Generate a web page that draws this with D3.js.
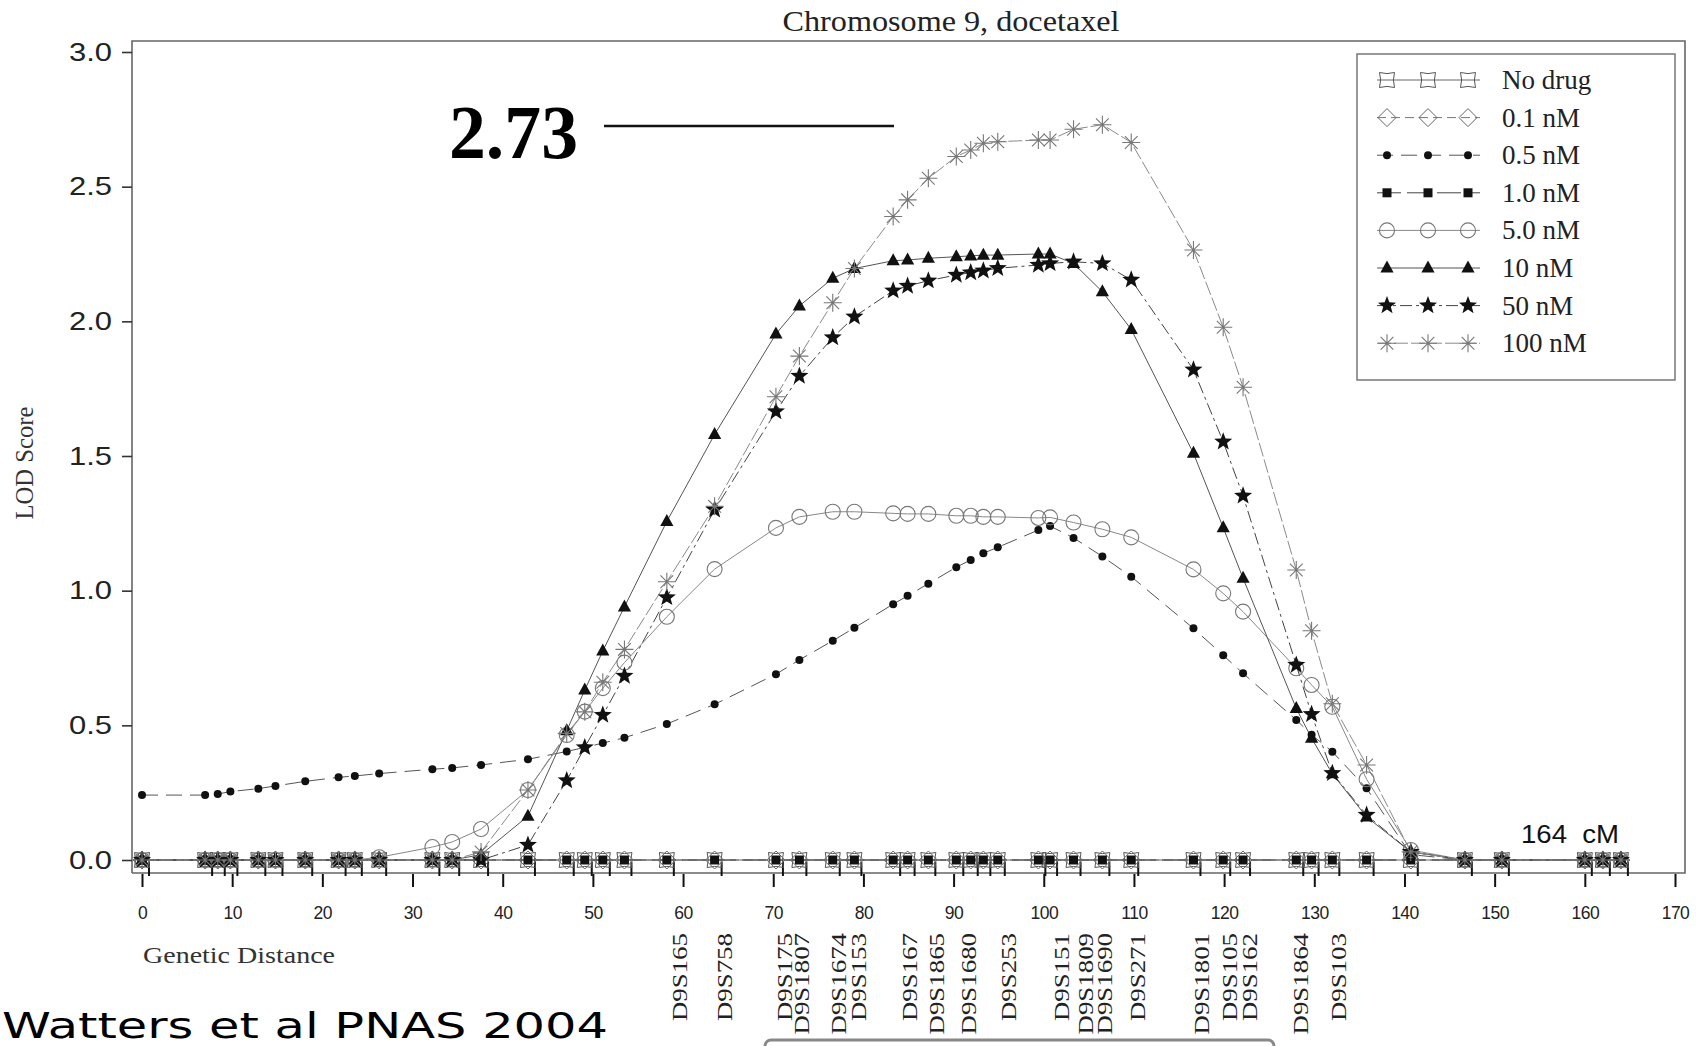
<!DOCTYPE html>
<html><head><meta charset="utf-8">
<script src="https://cdn.jsdelivr.net/npm/d3@7"></script>
<style>
body{margin:0;background:#fff}
svg{display:block}
</style>
</head><body>
<svg id="chart" width="1696" height="1046"></svg>
<script>
// ---------------- DATA ----------------
const positions = [0, 7.0, 8.4, 9.8, 12.9, 14.8, 18.1, 21.8, 23.6, 26.3, 32.2, 34.4, 37.6, 42.8, 47.1, 49.1, 51.1, 53.5, 58.2, 63.5, 70.3, 72.9, 76.6, 79.0, 83.3, 84.9, 87.2, 90.3, 91.9, 93.3, 94.9, 99.4, 100.7, 103.3, 106.5, 109.7, 116.6, 119.9, 122.1, 128.0, 129.7, 132.0, 135.8, 140.7, 146.7, 150.8, 160.0, 162.0, 164.0];

const seriesNames = ["No drug", "0.1 nM", "0.5 nM", "1.0 nM", "5.0 nM", "10 nM", "50 nM", "100 nM"];

const lodNoDrug = [0,0,0,0,0,0,0,0,0,0, 0,0,0,0,0,0,0,0,0,0, 0,0,0,0,0,0,0,0,0,0, 0,0,0,0,0,0,0,0,0,0, 0,0,0,0,0,0,0,0,0];
const lod01 = [0,0,0,0,0,0,0,0,0,0, 0,0,0,0,0,0,0,0,0,0, 0,0,0,0,0,0,0,0,0,0, 0,0,0,0,0,0,0,0,0,0, 0,0,0,0,0,0,0,0,0];
const lod05 = [0.241, 0.241, 0.245, 0.254, 0.265, 0.275, 0.292, 0.307, 0.312, 0.321,
  0.337, 0.342, 0.353, 0.374, 0.403, 0.418, 0.434, 0.454, 0.505, 0.578,
  0.690, 0.743, 0.814, 0.862, 0.950, 0.981, 1.026, 1.087, 1.114, 1.139,
  1.161, 1.225, 1.240, 1.196, 1.127, 1.052, 0.860, 0.760, 0.693, 0.520,
  0.465, 0.402, 0.266, 0.020, 0, 0, 0, 0, 0];
const lod10 = [0,0,0,0,0,0,0,0,0,0, 0,0,0,0,0,0,0,0,0,0, 0,0,0,0,0,0,0,0,0,0, 0,0,0,0,0,0,0,0,0,0, 0,0,0,0,0,0,0,0,0];
const lod50 = [0, 0, 0, 0, 0, 0, 0, 0, 0, 0.01,
  0.048, 0.067, 0.115, 0.260, 0.464, 0.551, 0.638, 0.733, 0.903, 1.080,
  1.233, 1.274, 1.293, 1.293, 1.287, 1.285, 1.285, 1.278, 1.278, 1.274,
  1.274, 1.270, 1.272, 1.253, 1.228, 1.198, 1.079, 0.990, 0.922, 0.712,
  0.650, 0.569, 0.300, 0.037, 0, 0, 0, 0, 0];
const lod10nM = [0, 0, 0, 0, 0, 0, 0, 0, 0, 0,
  0, 0, 0.020, 0.163, 0.480, 0.631, 0.776, 0.940, 1.257, 1.580,
  1.953, 2.057, 2.160, 2.196, 2.225, 2.228, 2.234, 2.240, 2.243, 2.246,
  2.246, 2.250, 2.250, 2.215, 2.110, 1.970, 1.510, 1.234, 1.046, 0.563,
  0.452, 0.320, 0.160, 0.030, 0, 0, 0, 0, 0];
const lod50nM = [0, 0, 0, 0, 0, 0, 0, 0, 0, 0,
  0, 0, 0, 0.056, 0.295, 0.418, 0.538, 0.683, 0.975, 1.300,
  1.665, 1.797, 1.940, 2.017, 2.114, 2.131, 2.151, 2.172, 2.181, 2.188,
  2.197, 2.209, 2.215, 2.221, 2.215, 2.154, 1.820, 1.553, 1.352, 0.724,
  0.541, 0.322, 0.167, 0.030, 0, 0, 0, 0, 0];
const lod100nM = [0, 0, 0, 0, 0, 0, 0, 0, 0, 0,
  0, 0, 0.030, 0.260, 0.470, 0.550, 0.660, 0.782, 1.033, 1.313,
  1.720, 1.871, 2.069, 2.196, 2.389, 2.451, 2.531, 2.612, 2.636, 2.661,
  2.667, 2.673, 2.673, 2.713, 2.730, 2.664, 2.265, 1.978, 1.755, 1.077,
  0.851, 0.580, 0.353, 0.030, 0, 0, 0, 0, 0];

const seriesValues = [lodNoDrug, lod01, lod05, lod10, lod50, lod10nM, lod50nM, lod100nM];

const markerNames = ["D9S165","D9S758","D9S175","D9S1807","D9S1674","D9S153","D9S167","D9S1865","D9S1680","D9S253","D9S151","D9S1809","D9S1690","D9S271","D9S1801","D9S105","D9S162","D9S1864","D9S103"];
const markerPos = [59.6, 64.6, 71.3, 73.2, 77.3, 79.5, 85.2, 88.1, 91.7, 96.1, 102.0, 104.7, 106.8, 110.4, 117.5, 120.6, 122.8, 128.5, 132.7];

const xTicks = [0,10,20,30,40,50,60,70,80,90,100,110,120,130,140,150,160,170];
const yTicks = [0,0.5,1.0,1.5,2.0,2.5,3.0];

const titleText = "Chromosome 9, docetaxel";
const peakLabel = "2.73";
const lengthLabel = "164  cM";

// ---------------- STYLES ----------------
const serif = "'Liberation Serif','Times New Roman',serif";
const sans = "'Liberation Sans',Arial,Helvetica,sans-serif";

function concaveSquare(h){const b=2.2;return `M${-h},${-h}Q0,${-h+b} ${h},${-h}Q${h-b},0 ${h},${h}Q0,${h-b} ${-h},${h}Q${-h+b},0 ${-h},${-h}Z`;}
function diamond(h){return `M0,${-h}L${h},0L0,${h}L${-h},0Z`;}
function circ(r){return `M${r},0A${r},${r} 0 1,1 ${-r},0A${r},${r} 0 1,1 ${r},0Z`;}
function sq(h){return `M${-h},${-h}H${h}V${h}H${-h}Z`;}
function tri(s){return `M0,${-s*0.62}L${s*0.55},${s*0.38}L${-s*0.55},${s*0.38}Z`;}
function star(R,r){let p="";for(let k=0;k<10;k++){const a=-Math.PI/2+k*Math.PI/5;const rr=k%2?r:R;p+=(k?"L":"M")+(rr*Math.cos(a)).toFixed(2)+","+(rr*Math.sin(a)).toFixed(2);}return p+"Z";}
function asterisk(r){let p="";for(let k=0;k<4;k++){const a=k*Math.PI/4;const dx=r*Math.cos(a),dy=r*Math.sin(a);p+=`M${(-dx).toFixed(2)},${(-dy).toFixed(2)}L${dx.toFixed(2)},${dy.toFixed(2)}`;}return p;}

const styles = {
  "No drug": {path: concaveSquare(7.5), fill:"none", stroke:"#555", sw:1, line:"#666", dash:null, lw:1},
  "0.1 nM":  {path: diamond(9), fill:"none", stroke:"#666", sw:1, line:"#777", dash:"9,5", lw:1},
  "0.5 nM":  {path: circ(4), fill:"#111", stroke:"none", sw:0, line:"#555", dash:"16,8", lw:1},
  "1.0 nM":  {path: sq(4.5), fill:"#111", stroke:"none", sw:0, line:"#444", dash:"24,6", lw:1},
  "5.0 nM":  {path: circ(7.5), fill:"none", stroke:"#777", sw:1.1, line:"#888", dash:null, lw:1},
  "10 nM":   {path: tri(12), fill:"#111", stroke:"none", sw:0, line:"#555", dash:null, lw:1},
  "50 nM":   {path: star(9.5,4), fill:"#111", stroke:"none", sw:0, line:"#444", dash:"12,4,3,4", lw:1},
  "100 nM":  {path: asterisk(9), fill:"none", stroke:"#777", sw:1.1, line:"#8a8a8a", dash:"14,3", lw:1}
};

// ---------------- CHART ----------------
const svg = d3.select("#chart");
svg.append("rect").attr("width",1696).attr("height",1046).attr("fill","#fff");

const x = d3.scaleLinear().domain([0,170]).range([142,1675]);
const y = d3.scaleLinear().domain([0,3]).range([860,52]);

const frame = {left:132, top:41, right:1685, bottom:873};

// frame
svg.append("path")
  .attr("d",`M${frame.left},${frame.bottom}V${frame.top}H${frame.right}V${frame.bottom}H${frame.left}`)
  .attr("fill","none").attr("stroke","#666").attr("stroke-width",1.6);

// y axis
const yAxis = svg.append("g").attr("transform",`translate(${frame.left},0)`)
  .call(d3.axisLeft(y).tickValues(yTicks).tickFormat(d3.format(".1f")).tickSize(10).tickPadding(10));
yAxis.select(".domain").remove();
yAxis.selectAll(".tick line").attr("stroke","#333").attr("stroke-width",1.6);
yAxis.selectAll(".tick text").attr("font-family",sans).attr("font-size",26).attr("fill","#222")
  .attr("textLength",43).attr("lengthAdjust","spacingAndGlyphs");

// x axis
const xAxis = svg.append("g").attr("transform",`translate(0,${frame.bottom+1})`)
  .call(d3.axisBottom(x).tickValues(xTicks).tickFormat(d3.format("d")).tickSize(13).tickPadding(20));
xAxis.select(".domain").remove();
xAxis.selectAll(".tick line").attr("stroke","#111").attr("stroke-width",2);
xAxis.selectAll(".tick text").attr("font-family",sans).attr("font-size",17.5).attr("fill","#222").attr("letter-spacing","-0.5px");

// rug ticks at marker positions
svg.append("g").selectAll("line").data(positions).join("line")
  .attr("x1",d=>x(d)+7).attr("x2",d=>x(d)+7)
  .attr("y1",y(0)+2).attr("y2",frame.bottom+3)
  .attr("stroke","#111").attr("stroke-width",2);

// series lines
const line = d3.line().x(d=>x(d.pos)).y(d=>y(d.v));
const seriesData = seriesNames.map((n,i)=>({name:n, pts: positions.map((p,j)=>({pos:p, v:seriesValues[i][j]}))}));

svg.append("g").selectAll("path").data(seriesData).join("path")
  .attr("d",d=>line(d.pts))
  .attr("fill","none")
  .attr("stroke",d=>styles[d.name].line)
  .attr("stroke-width",d=>styles[d.name].lw)
  .attr("stroke-dasharray",d=>styles[d.name].dash);

// markers
seriesData.forEach(s=>{
  const st = styles[s.name];
  svg.append("g").selectAll("path").data(s.pts).join("path")
    .attr("transform",d=>`translate(${x(d.pos)},${y(d.v)})`)
    .attr("d",st.path)
    .attr("fill",st.fill).attr("stroke",st.stroke).attr("stroke-width",st.sw);
});

// marker labels (rotated, stretched along their length)
svg.append("g").selectAll("text").data(markerNames).join("text")
  .attr("transform",(d,i)=>`translate(${x(markerPos[i])},933) rotate(-90) scale(1.28,1)`)
  .attr("text-anchor","end").attr("dy","0.34em")
  .attr("font-family",serif).attr("font-size",21).attr("fill","#222")
  .text(d=>d);

// title
svg.append("text").attr("x",951).attr("y",31).attr("text-anchor","middle")
  .attr("font-family",serif).attr("font-size",30).attr("fill","#222")
  .attr("textLength",337).attr("lengthAdjust","spacingAndGlyphs").text(titleText);

// y title
svg.append("text").attr("transform","translate(33,463) rotate(-90)").attr("text-anchor","middle")
  .attr("font-family",serif).attr("font-size",25).attr("fill","#333")
  .attr("textLength",113).attr("lengthAdjust","spacingAndGlyphs").text("LOD Score");

// x title
svg.append("text").attr("x",143).attr("y",963)
  .attr("font-family",serif).attr("font-size",24).attr("fill","#333")
  .attr("textLength",192).attr("lengthAdjust","spacingAndGlyphs").text("Genetic Distance");

// peak annotation
svg.append("text").attr("x",449).attr("y",158)
  .attr("font-family",serif).attr("font-weight","bold").attr("font-size",76).attr("fill","#000")
  .attr("textLength",129).attr("lengthAdjust","spacingAndGlyphs").text(peakLabel);
svg.append("line").attr("x1",604).attr("x2",894).attr("y1",126).attr("y2",126)
  .attr("stroke","#111").attr("stroke-width",2.5);

// 164 cM
svg.append("text").attr("x",1521).attr("y",843).style("white-space","pre")
  .attr("font-family",sans).attr("font-size",25).attr("fill","#111")
  .attr("textLength",98).attr("lengthAdjust","spacingAndGlyphs").text(lengthLabel);

// legend
const lg = svg.append("g");
lg.append("rect").attr("x",1357).attr("y",54).attr("width",318).attr("height",326)
  .attr("fill","#fff").attr("stroke","#777").attr("stroke-width",1.5);
seriesNames.forEach((n,i)=>{
  const st = styles[n];
  const cy = 80 + i*37.6;
  lg.append("line").attr("x1",1377).attr("x2",1480).attr("y1",cy).attr("y2",cy)
    .attr("stroke",st.line).attr("stroke-width",1).attr("stroke-dasharray",st.dash);
  [1387,1428,1468].forEach(cx=>{
    lg.append("path").attr("transform",`translate(${cx},${cy})`).attr("d",st.path)
      .attr("fill",st.fill).attr("stroke",st.stroke).attr("stroke-width",st.sw);
  });
  lg.append("text").attr("x",1502).attr("y",cy+9)
    .attr("font-family",serif).attr("font-size",27).attr("fill","#222").text(n);
});

// source caption
svg.append("text").attr("x",2).attr("y",1038)
  .attr("font-family","'DejaVu Sans',sans-serif").attr("font-size",36).attr("fill","#000")
  .attr("textLength",606).attr("lengthAdjust","spacingAndGlyphs").text("Watters et al PNAS 2004");

// bottom box edge
svg.append("rect").attr("x",765).attr("y",1040).attr("width",509).attr("height",40).attr("rx",6)
  .attr("fill","none").attr("stroke","#888").attr("stroke-width",3);
</script>
</body></html>
